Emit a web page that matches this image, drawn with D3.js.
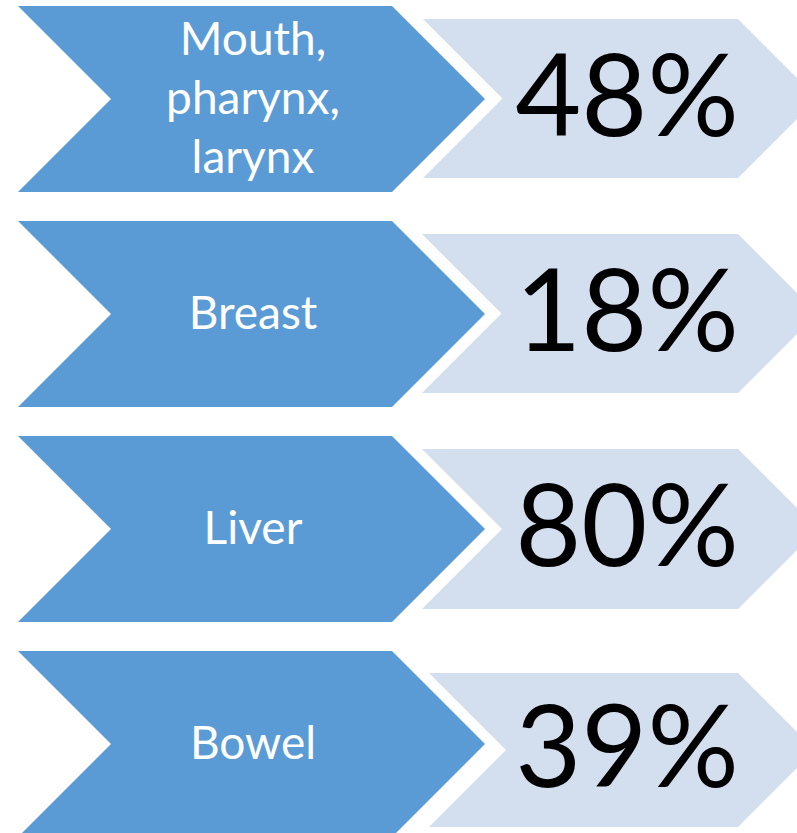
<!DOCTYPE html>
<html>
<head>
	<title>Alcohol attributable cancers</title>
	<meta charset="utf-8"/>
	<script src="https://cdn.jsdelivr.net/npm/d3@7"></script>
	<style type="text/css">
		html, body {
			margin: 0;
			padding: 0;
			background: #ffffff;
		}
		svg {
			display: block;
			font-family: Lato, "Open Sans", sans-serif;
		}
	</style>
</head>
<body>
	<div id="viz">
		<svg id="chevrons" width="797" height="833"></svg>
	</div>
	<script type="text/javascript">

		// data
		var categories = ["Mouth,\npharynx,\nlarynx", "Breast", "Liver", "Bowel"];
		var percents = [48, 18, 80, 39];

		// light chevron insets per row (top, bottom, left edge) - the last one sits a bit lower
		var lightInset = [
			{top: 13, bottom: 14, left: 423},
			{top: 13, bottom: 14, left: 422},
			{top: 13, bottom: 13, left: 422},
			{top: 22, bottom: 10, left: 429}
		];

		var blue = "#5b9bd5",
			light = "#d3dfef";

		var svg = d3.select("#chevrons");

		var y = d3.scaleBand()
			.domain(d3.range(categories.length))
			.range([6, 837])
			.paddingInner(29 / 215)
			.paddingOuter(0);

		var blueLeft = 18, blueRight = 392,
			lightRight = 738;

		function chevron(x0, x1, top, bottom) {
			var h = bottom - top, mid = top + h / 2, d = h / 2;
			return "M" + x0 + "," + top +
				"L" + x1 + "," + top +
				"L" + (x1 + d) + "," + mid +
				"L" + x1 + "," + bottom +
				"L" + x0 + "," + bottom +
				"L" + (x0 + d) + "," + mid + "Z";
		}

		var rows = svg.selectAll("g.row")
			.data(categories.map(function(c, i) {
				return {label: c, value: percents[i], i: i};
			}))
			.enter()
			.append("g")
			.attr("class", "row");

		// dark chevron with the cancer site
		rows.append("path")
			.attr("d", function(d) {
				return chevron(blueLeft, blueRight, y(d.i), y(d.i) + y.bandwidth());
			})
			.style("fill", blue);

		// light chevron with the percentage
		rows.append("path")
			.attr("d", function(d) {
				var ins = lightInset[d.i];
				return chevron(ins.left, lightRight, y(d.i) + ins.top, y(d.i) + y.bandwidth() - ins.bottom);
			})
			.style("fill", light);

		// labels
		var lineH = 59;
		rows.append("text")
			.attr("text-anchor", "middle")
			.style("fill", "#ffffff")
			.style("font-size", "46px")
			.each(function(d) {
				var lines = d.label.split("\n");
				var mid = y(d.i) + y.bandwidth() / 2;
				var t = d3.select(this);
				lines.forEach(function(l, k) {
					t.append("tspan")
						.attr("x", 253)
						.attr("y", mid + 15 + (k - (lines.length - 1) / 2) * lineH)
						.text(l);
				});
			});

		// percentages
		rows.append("text")
			.attr("text-anchor", "middle")
			.attr("x", 627)
			.attr("y", function(d) {
				var ins = lightInset[d.i];
				var top = y(d.i) + ins.top, bottom = y(d.i) + y.bandwidth() - ins.bottom;
				return (top + bottom) / 2 + 37;
			})
			.style("fill", "#000000")
			.style("font-size", "114px")
			.text(function(d) { return d.value + "%"; });

	</script>
</body>
</html>
